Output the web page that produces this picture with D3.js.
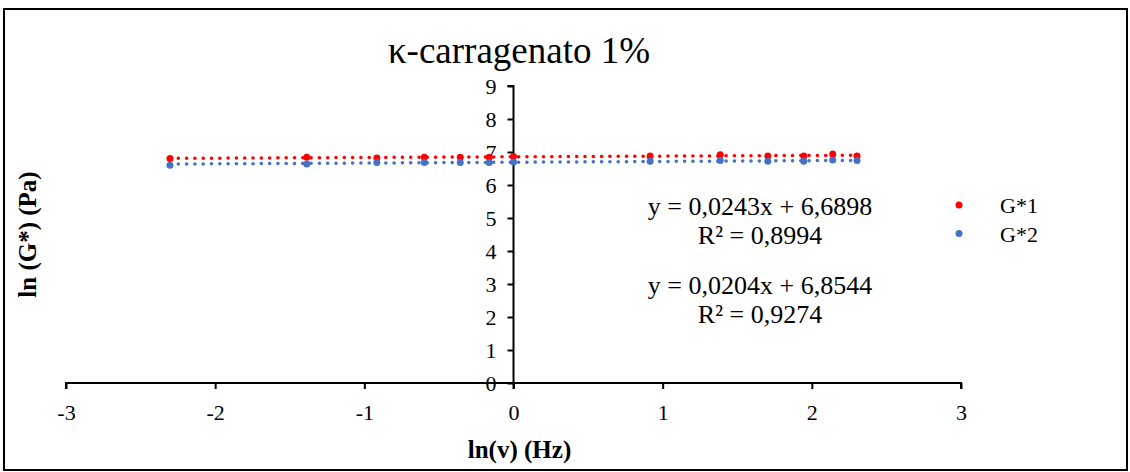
<!DOCTYPE html>
<html>
<head>
<meta charset="utf-8">
<script src="https://cdn.jsdelivr.net/npm/d3@7"></script>
<style>
html,body{margin:0;padding:0;background:#fff;}
svg{display:block;}
svg text{font-family:"Liberation Serif","Times New Roman",serif !important;}
</style>
</head>
<body>
<svg id="chart" width="1130" height="472"></svg>
<script>
// ---- data ----
const xValues = [-2.303, -1.386, -0.916, -0.598, -0.357, -0.163, 0, 0.916, 1.386, 1.705, 1.946, 2.140, 2.303];
const g1Values = [6.80, 6.84, 6.82, 6.84, 6.84, 6.84, 6.86, 6.88, 6.92, 6.88, 6.88, 6.94, 6.88];
const g2Values = [6.60, 6.64, 6.68, 6.68, 6.68, 6.68, 6.70, 6.72, 6.74, 6.72, 6.72, 6.76, 6.74];
const seriesNames = ["G*1", "G*2"];
const trendSlopes = [0.0204, 0.0243];
const trendIntercepts = [6.8544, 6.6898];
const equationLines = ["y = 0,0243x + 6,6898", "R² = 0,8994", "y = 0,0204x + 6,8544", "R² = 0,9274"];
const xTicks = [-3, -2, -1, 0, 1, 2, 3];
const yTicks = [0, 1, 2, 3, 4, 5, 6, 7, 8, 9];
const titleText = "κ-carragenato 1%";
const xTitle = "ln(v) (Hz)";
const yTitle = "ln (G*) (Pa)";

const colors = ["#FF0000", "#4472C4"];
const FONT = "'Liberation Serif', 'Times New Roman', serif";
const svg = d3.select("#chart");

// outer border
svg.append("rect").attr("x", 4).attr("y", 9).attr("width", 1123).attr("height", 461)
  .attr("fill", "#fff").attr("stroke", "#000").attr("stroke-width", 2);

const x = d3.scaleLinear().domain([-3, 3]).range([66, 961]);
const y = d3.scaleLinear().domain([0, 9]).range([383, 86]);

// title
svg.append("text").attr("x", 519).attr("y", 63).attr("text-anchor", "middle")
  .attr("font-family", FONT).attr("font-size", 37).text(titleText);

// x axis at y=0
const xAxis = d3.axisBottom(x).tickValues(xTicks).tickSize(6).tickPadding(15).tickFormat(d3.format("d"));
const gx = svg.append("g").attr("transform", `translate(0,${y(0)})`).call(xAxis)
  .attr("font-family", FONT).attr("font-size", 22);
gx.select(".domain").attr("stroke", "#000").attr("stroke-width", 2).attr("d", `M${x(-3)},6V0H${x(3)}V6`);
gx.selectAll(".tick line").attr("stroke", "#000").attr("stroke-width", 2);
gx.selectAll(".tick text").attr("fill", "#000")
  .text(d => d < 0 ? "-" + Math.abs(d) : d);

// y axis at x=0
const yAxis = d3.axisLeft(y).tickValues(yTicks).tickSize(6).tickPadding(11).tickFormat(d3.format("d"));
const gy = svg.append("g").attr("transform", `translate(${x(0)},0)`).call(yAxis)
  .attr("font-family", FONT).attr("font-size", 22);
gy.select(".domain").attr("stroke", "#000").attr("stroke-width", 2).attr("d", `M-6,${y(9)}H0V${y(0) + 6}`);
gy.selectAll(".tick line").attr("stroke", "#000").attr("stroke-width", 2);
gy.selectAll(".tick text").attr("fill", "#000");

// axis titles
svg.append("text").attr("x", x(0) + 6).attr("y", 458).attr("text-anchor", "middle")
  .attr("font-family", FONT).attr("font-size", 25).attr("font-weight", "bold").text(xTitle);
svg.append("text").attr("transform", `translate(36,${(y(0) + y(9)) / 2}) rotate(-90)`)
  .attr("text-anchor", "middle").attr("font-family", FONT).attr("font-size", 25).attr("font-weight", "bold").text(yTitle);

// series
const seriesData = [g1Values, g2Values];
seriesData.forEach((vals, i) => {
  svg.append("g").selectAll("circle").data(vals).join("circle")
    .attr("cx", (d, j) => x(xValues[j])).attr("cy", d => y(d)).attr("r", 3.5)
    .attr("fill", colors[i]);
});

// trendlines
const xMin = d3.min(xValues), xMax = d3.max(xValues);
seriesData.forEach((vals, i) => {
  svg.append("line")
    .attr("x1", x(xMin)).attr("y1", y(trendSlopes[i] * xMin + trendIntercepts[i]))
    .attr("x2", x(xMax)).attr("y2", y(trendSlopes[i] * xMax + trendIntercepts[i]))
    .attr("stroke", colors[i]).attr("stroke-width", 3.5)
    .attr("stroke-linecap", "round").attr("stroke-dasharray", "0.1 8.2");
});

// equations
const eqY = [215, 244, 294, 323];
equationLines.forEach((t, i) => {
  svg.append("text").attr("x", 760).attr("y", eqY[i]).attr("text-anchor", "middle")
    .attr("font-family", FONT).attr("font-size", 26).text(t);
});

// legend
seriesNames.forEach((n, i) => {
  const ly = 205 + i * 28.5;
  svg.append("circle").attr("cx", 959).attr("cy", ly).attr("r", 3.5).attr("fill", colors[i]);
  svg.append("text").attr("x", 1000).attr("y", ly + 8).attr("font-family", FONT).attr("font-size", 22).text(n);
});
</script>
</body>
</html>
